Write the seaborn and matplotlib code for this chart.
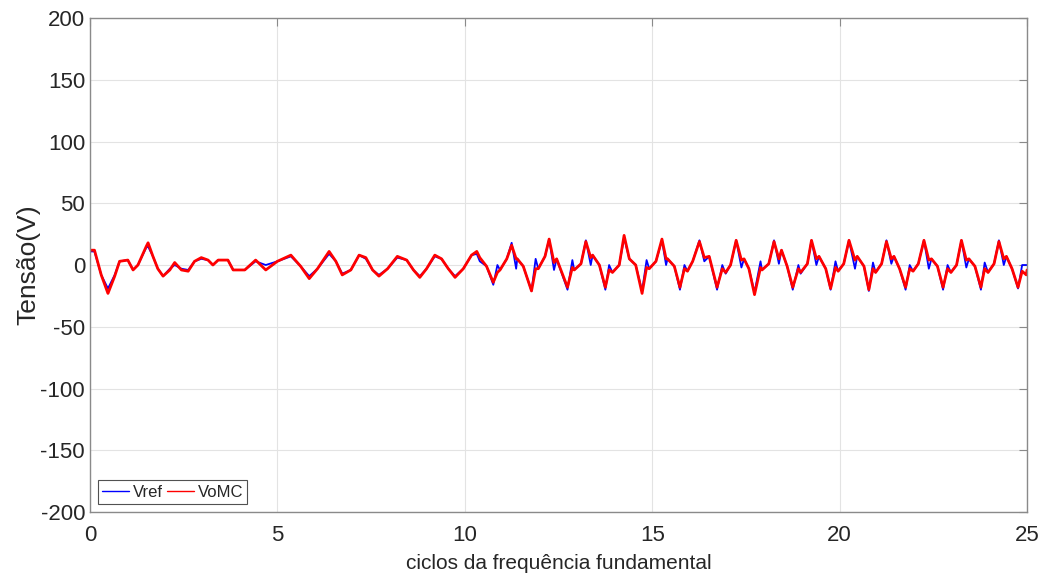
import numpy as np
import pandas as pd
import seaborn as sns
import matplotlib.pyplot as plt

# tempo em ciclos da fundamental e tensoes
t_ciclos = [0.00, 0.12, 0.30, 0.48, 0.66, 0.79, 1.01, 1.15, 1.28, 1.50, 1.55, 1.68, 1.81, 1.95,
            2.13, 2.26, 2.44, 2.62, 2.79, 2.97, 3.15, 3.28, 3.42, 3.68, 3.82, 4.13, 4.42, 4.69,
            5.00, 5.36, 5.62, 5.85, 6.07, 6.38, 6.56, 6.73, 6.96, 7.18, 7.36, 7.54, 7.71, 7.94,
            8.20, 8.45, 8.63, 8.80, 8.98, 9.20, 9.38, 9.56, 9.74, 9.96, 10.18, 10.32, 10.40,
            10.58, 10.76, 10.87, 10.94, 11.12, 11.25, 11.37, 11.40, 11.56, 11.78, 11.89, 11.96,
            12.14, 12.25, 12.38, 12.45, 12.74, 12.87, 12.92, 13.10, 13.23, 13.36, 13.41, 13.59,
            13.75, 13.85, 13.94, 14.12, 14.25, 14.39, 14.56, 14.73, 14.85, 14.92, 15.10, 15.26,
            15.37, 15.41, 15.59, 15.74, 15.86, 15.94, 16.08, 16.26, 16.39, 16.52, 16.73, 16.87,
            16.96, 17.09, 17.24, 17.38, 17.45, 17.58, 17.73, 17.89, 17.93, 18.11, 18.25, 18.38,
            18.45, 18.60, 18.75, 18.90, 18.96, 19.14, 19.25, 19.38, 19.45, 19.63, 19.76, 19.89,
            19.96, 20.11, 20.25, 20.41, 20.47, 20.65, 20.78, 20.89, 20.96, 21.12, 21.25, 21.38,
            21.45, 21.60, 21.76, 21.87, 21.96, 22.10, 22.25, 22.38, 22.45, 22.61, 22.76, 22.88,
            22.97, 23.12, 23.25, 23.38, 23.45, 23.61, 23.77, 23.87, 23.96, 24.12, 24.25, 24.38,
            24.45, 24.60, 24.76, 24.87, 24.98, 25.00]

vref = [11, 11, -8, -19, -8, 3, 4, -4, 0, 14, 15, 7, -3, -9,
        -3, 0, -3, -4, 3, 5, 4, 0, 4, 4, -4, -4, 3, 0,
        3, 7, -1, -9, -3, 9, 3, -7, -4, 8, 5, -4, -8, -3,
        6, 4, -4, -9, -3, 7, 5, -3, -9, -3, 8, 9, 3,
        -1, -16, 0, -4, 5, 18, -3, 5, -1, -21, 5, -3,
        7, 21, -4, 5, -20, 4, -4, 1, 20, 0, 8, 0,
        -20, 0, -6, 0, 22, 5, 0, -21, 4, -3, 3, 20,
        0, 5, -1, -20, 0, -5, 3, 20, 3, 7, -20, 0,
        -7, 0, 20, -2, 5, -3, -22, 3, -4, 1, 20, 1,
        12, -1, -20, 0, -7, 1, 20, 0, 7, -3, -20, 3,
        -5, 1, 20, -3, 7, -1, -21, 2, -6, 1, 20, 1,
        7, -3, -20, 0, -5, 1, 20, -3, 5, -1, -20, 0,
        -6, 0, 20, -2, 5, -1, -20, 2, -6, 1, 20, 0,
        7, -3, -19, 0, 0, 0]

vomc = [12, 12, -8, -23, -9, 3, 4, -4, 0, 15, 18, 7, -3, -9,
        -4, 2, -4, -5, 3, 6, 4, 0, 4, 4, -4, -4, 4, -4,
        3, 8, -1, -11, -3, 11, 3, -8, -4, 8, 6, -4, -9, -3,
        7, 4, -4, -10, -3, 8, 5, -3, -10, -3, 8, 11, 6,
        -1, -14, -6, -4, 5, 16, 5, 5, -1, -21, -3, -3,
        7, 21, 2, 5, -18, -2, -4, 1, 19, 6, 8, 0,
        -18, -4, -6, 0, 24, 5, 0, -23, -2, -3, 3, 21,
        5, 5, -1, -18, -3, -5, 3, 19, 6, 7, -18, -3,
        -6, 0, 20, 4, 5, -3, -24, -2, -4, 1, 19, 5,
        12, -1, -18, -3, -6, 1, 20, 5, 7, -3, -19, -2,
        -5, 1, 20, 4, 7, -1, -20, -3, -6, 1, 19, 5,
        7, -3, -18, -3, -5, 1, 20, 4, 5, -1, -18, -3,
        -6, 0, 20, 4, 5, -1, -18, -3, -6, 1, 19, 5,
        7, -3, -18, -5, -8, -4]

y_ticks = [-200, -150, -100, -50, 0, 50, 100, 150, 200]
x_ticks = [0, 5, 10, 15, 20, 25]

sns.set_style("white")
plt.rcParams['font.family'] = ['Liberation Sans', 'DejaVu Sans']
plt.rcParams['axes.unicode_minus'] = False

df = pd.DataFrame({'t': t_ciclos * 2,
                   'v': vref + vomc,
                   'sinal': ['Vref'] * len(vref) + ['VoMC'] * len(vomc)})

fig = plt.figure(figsize=(10.45, 5.74), dpi=100)
ax = fig.add_axes([0.0861, 0.108, 0.8967, 0.8606])

sns.lineplot(data=df[df.sinal == 'Vref'], x='t', y='v', color='#0000ff',
             linewidth=1.3, estimator=None, ax=ax, label='Vref')
sns.lineplot(data=df[df.sinal == 'VoMC'], x='t', y='v', color='#ff0000',
             linewidth=2.0, estimator=None, ax=ax, label='VoMC')

ax.set_xlim(0, 25)
ax.set_ylim(-200, 200)
ax.set_xticks(x_ticks)
ax.set_yticks(y_ticks)
ax.grid(True, color='#e3e3e3', linewidth=0.8)
ax.set_axisbelow(True)
for s in ax.spines.values():
    s.set_color('#8a8a8a')
    s.set_linewidth(1.0)
ax.tick_params(direction='in', length=6, color='#8a8a8a', labelsize=16,
               labelcolor='#262626', top=True, right=True)
ax.tick_params(axis='x', pad=9)
ax.set_xlabel('ciclos da frequência fundamental', fontsize=15, color='#262626', labelpad=6)
ax.set_ylabel('Tensão(V)', fontsize=19, color='#262626')
ax.yaxis.set_label_coords(-0.053, 0.5)

leg = ax.legend(loc='lower left', ncol=2, fontsize=12, frameon=True, fancybox=False,
                handlelength=1.6, handletextpad=0.2, columnspacing=0.3,
                borderpad=0.25, borderaxespad=0.5)
leg.get_frame().set_edgecolor('#262626')
leg.get_frame().set_linewidth(0.8)
for h in leg.get_lines():
    h.set_linewidth(1.0)

plt.savefig('out.png', dpi=100)
